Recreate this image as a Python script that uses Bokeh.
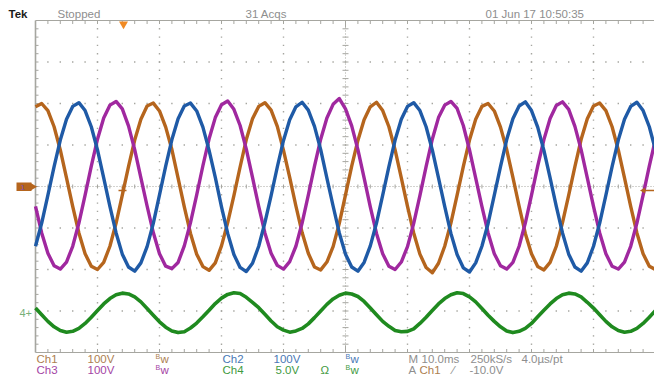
from bokeh.plotting import figure
from bokeh.models import Range1d
from bokeh.embed import file_html
from bokeh.resources import INLINE
from bokeh.core.properties import value

# ---------------- data (read from the screen capture) ----------------
# time axis: 10 ms / div, samples every 1 ms
time_ms = list(range(0, 101))

# channel values in screen divisions (Ch1-3: 100 V/div, Ch4: 5 V/div, offset -3 div)
ch1_div = [1.92, 2.00, 1.83, 1.44, 0.88, 0.21, -0.48, -1.12, -1.62, -1.92, -2.00, -1.83, -1.44, -0.88, -0.21, 0.48, 1.12, 1.62,
           1.94, 2.01, 1.82, 1.43, 0.89, 0.20, -0.49, -1.13, -1.63, -1.93, -2.02, -1.84, -1.43, -0.87, -0.22, 0.47, 1.13, 1.63,
           1.93, 2.02, 1.84, 1.45, 0.87, 0.22, -0.47, -1.11, -1.61, -1.94, -2.01, -1.82, -1.45, -0.89, -0.20, 0.49, 1.11, 1.61,
           1.92, 2.03, 1.83, 1.44, 0.88, 0.21, -0.48, -1.12, -1.63, -1.95, -2.08, -1.85, -1.44, -0.88, -0.21, 0.48, 1.12, 1.62,
           1.93, 2.00, 1.82, 1.43, 0.89, 0.22, -0.47, -1.13, -1.62, -1.93, -2.01, -1.83, -1.44, -0.87, -0.21, 0.48, 1.13, 1.63,
           1.94, 2.01, 1.83, 1.44, 0.88, 0.21, -0.48, -1.12, -1.62, -1.92, -2.00]
ch2_div = [-1.44, -0.88, -0.21, 0.48, 1.12, 1.62, 1.93, 2.02, 1.83, 1.44, 0.88, 0.21, -0.48, -1.12, -1.63, -1.94, -2.04, -1.84,
           -1.45, -0.89, -0.20, 0.49, 1.13, 1.63, 1.94, 2.01, 1.82, 1.43, 0.87, 0.22, -0.49, -1.13, -1.64, -1.95, -2.05, -1.85,
           -1.44, -0.87, -0.22, 0.47, 1.11, 1.61, 1.92, 2.03, 1.84, 1.45, 0.89, 0.20, -0.47, -1.12, -1.63, -1.94, -2.04, -1.83,
           -1.43, -0.88, -0.21, 0.48, 1.12, 1.62, 1.93, 2.02, 1.83, 1.44, 0.88, 0.21, -0.48, -1.13, -1.64, -1.96, -2.06, -1.84,
           -1.44, -0.89, -0.21, 0.48, 1.13, 1.63, 1.94, 2.04, 1.83, 1.43, 0.87, 0.21, -0.48, -1.12, -1.63, -1.94, -2.04, -1.84,
           -1.44, -0.88, -0.21, 0.48, 1.12, 1.62, 1.93, 2.03, 1.83, 1.44, 0.88]
ch3_div = [-0.48, -1.12, -1.61, -1.91, -1.99, -1.82, -1.44, -0.88, -0.21, 0.49, 1.14, 1.65, 1.96, 2.05, 1.87, 1.46, 0.89, 0.21,
           -0.47, -1.11, -1.62, -1.92, -1.98, -1.83, -1.43, -0.87, -0.20, 0.50, 1.15, 1.66, 1.97, 2.06, 1.86, 1.47, 0.90, 0.22,
           -0.48, -1.12, -1.61, -1.90, -1.99, -1.81, -1.44, -0.88, -0.21, 0.49, 1.14, 1.65, 1.98, 2.12, 1.87, 1.46, 0.89, 0.21,
           -0.49, -1.13, -1.62, -1.92, -2.00, -1.82, -1.45, -0.89, -0.22, 0.48, 1.14, 1.66, 1.96, 2.05, 1.88, 1.47, 0.88, 0.20,
           -0.48, -1.12, -1.62, -1.91, -1.99, -1.83, -1.44, -0.88, -0.21, 0.49, 1.13, 1.64, 1.95, 2.04, 1.86, 1.45, 0.89, 0.21,
           -0.48, -1.12, -1.62, -1.92, -1.99, -1.82, -1.44, -0.88, -0.21, 0.49, 1.14]
ch4_div = [-2.93, -3.09, -3.25, -3.38, -3.47, -3.51, -3.49, -3.42, -3.30, -3.15, -2.99, -2.83, -2.70, -2.61, -2.57, -2.59, -2.66, -2.78,
           -2.94, -3.10, -3.26, -3.39, -3.48, -3.52, -3.50, -3.41, -3.29, -3.14, -2.98, -2.82, -2.69, -2.60, -2.56, -2.58, -2.67, -2.79,
           -2.92, -3.08, -3.24, -3.38, -3.46, -3.51, -3.48, -3.42, -3.31, -3.16, -3.00, -2.84, -2.71, -2.62, -2.57, -2.59, -2.65, -2.77,
           -2.93, -3.09, -3.25, -3.37, -3.47, -3.50, -3.49, -3.43, -3.30, -3.15, -2.99, -2.83, -2.70, -2.61, -2.56, -2.58, -2.66, -2.78,
           -2.94, -3.10, -3.25, -3.38, -3.48, -3.52, -3.49, -3.42, -3.30, -3.14, -2.98, -2.83, -2.70, -2.61, -2.57, -2.59, -2.66, -2.79,
           -2.93, -3.09, -3.25, -3.38, -3.47, -3.51, -3.49, -3.42, -3.30, -3.15, -2.99]

header_texts = ["Tek", "Stopped", "31 Acqs", "01 Jun 17 10:50:35"]
footer_row1 = ["Ch1", "100V", "Ch2", "100V", "M", "10.0ms", "250kS/s", "4.0µs/pt"]
footer_row2 = ["Ch3", "100V", "Ch4", "5.0V", "Ω", "A", "Ch1", "⁄", "-10.0V"]

# ---------------- layout / style ----------------
GX0, GY0 = 35.0, 186.0      # reference pixel of graticule left edge / centre line
PX_MS, PX_DIV = 6.2, 41.5   # pixels per ms, pixels per vertical division
W, H = 654, 377


def X(px):
    return (px - GX0) / PX_MS


def Y(py):
    return (GY0 - py) / PX_DIV


C1, C2, C3, C4 = "#b5651d", "#1f5aa6", "#a0289f", "#1f8a1f"
T1, T2, T3, T4 = "#ad8050", "#4a78b5", "#a444a4", "#3f9a3f"
GRAY = "#8e8e8e"
GRID = "#a6a6a0"
FONT = value("Liberation Sans")

p = figure(width=W, height=H,
           x_range=Range1d(X(0), X(W)), y_range=Range1d(Y(H), Y(0)),
           output_backend="svg", toolbar_location=None,
           x_axis_location=None, y_axis_location=None, min_border=0,
           outline_line_color=None, background_fill_color="white",
           border_fill_color="white")
p.grid.visible = False

# graticule dots
dx, dy = [], []
for k in range(1, 10):
    if k == 5:
        continue
    for j in range(1, 40):
        dx.append(10.0 * k)
        dy.append(-4 + 0.2 * j)
for m in (-3, -2, -1, 1, 2, 3):
    for j in range(1, 50):
        dx.append(2.0 * j)
        dy.append(float(m))
p.scatter(dx, dy, marker="square", size=1.4, fill_color=GRID, line_color=None)

# centre lines
p.line([0, 101], [0, 0], line_color=GRID, line_width=1, line_dash="1 2")
p.line([50, 50], [-4, 4], line_color=GRID, line_width=1, line_dash="1 2")
hx = [2.0 * j for j in range(1, 50)]
p.segment(x0=hx, y0=[-2 / PX_DIV] * len(hx), x1=hx, y1=[2 / PX_DIV] * len(hx),
          line_color=GRID, line_width=1)
vy = [-4 + 0.2 * j for j in range(1, 40)]
p.segment(x0=[50 - 3 / PX_MS] * len(vy), y0=vy, x1=[50 + 3 / PX_MS] * len(vy), y1=vy,
          line_color=GRID, line_width=1)

# borders with ruler ticks
p.line([0, 0], [-4, 4], line_color=GRID, line_width=1.6)
p.line([0, 101], [4, 4], line_color=GRID, line_width=1.2)
p.line([0, 101], [-4, -4], line_color=GRID, line_width=1.2)
tl = [3.5 / PX_DIV if abs(x - 50) > 0.1 else 7 / PX_DIV for x in hx]
p.segment(x0=hx, y0=[4] * len(hx), x1=hx, y1=[4 - t for t in tl], line_color=GRID, line_width=1)
p.segment(x0=hx, y0=[-4] * len(hx), x1=hx, y1=[-4 + t for t in tl], line_color=GRID, line_width=1)
p.segment(x0=[0] * len(vy), y0=vy, x1=[3 / PX_MS] * len(vy), y1=vy, line_color=GRID, line_width=1)

# traces
p.line(time_ms, ch4_div, line_color=C4, line_width=3.6, line_join="round")
p.line(time_ms, ch1_div, line_color=C1, line_width=3.4, line_join="round")
p.line(time_ms, ch3_div, line_color=C3, line_width=3.4, line_join="round")
p.line(time_ms, ch2_div, line_color=C2, line_width=3.4, line_join="round")

# markers: trigger position, trigger point, trigger level, channel grounds
p.scatter([X(123)], [Y(23.5)], marker="inverted_triangle", size=9, fill_color="#f08a24", line_color=None)
p.scatter([X(122)], [Y(190)], marker="cross", size=8, line_color=C1, line_width=1.6)
p.segment(x0=[X(643)], y0=[Y(190)], x1=[X(660)], y1=[Y(190)], line_color=C1, line_width=1.6)
p.scatter([X(643)], [Y(190)], marker="triangle", angle=1.5708, size=6, fill_color=C1, line_color=None)
p.quad(left=[X(16)], right=[X(31)], top=[Y(182)], bottom=[Y(190.5)], fill_color=C1, line_color=None)
p.scatter([X(32)], [Y(186.25)], marker="triangle", angle=-1.5708, size=8, fill_color=C1, line_color=None)
p.text([X(20)], [Y(186.5)], text=["1"], text_font=FONT, text_font_size="8px",
       text_color="#7a4fb0", text_baseline="middle", text_align="left")
p.text([X(19)], [Y(312)], text=["4+"], text_font=FONT, text_font_size="11px",
       text_color="#78b078", text_baseline="middle", text_align="left")

# header
p.text([X(8)], [Y(13)], text=[header_texts[0]], text_font=FONT, text_font_size="11.5px",
       text_font_style="bold", text_color="#1a1a1a", text_baseline="middle", text_align="left")
p.text([X(57), X(245), X(485)], [Y(13)] * 3, text=header_texts[1:], text_font=FONT,
       text_font_size="11.5px", text_color=GRAY, text_baseline="middle", text_align="left")

# footer
r1x = [36, 87, 222, 273, 408, 421, 470, 521]
r1c = [T1, T1, T2, T2, GRAY, GRAY, GRAY, GRAY]
p.text([X(v) for v in r1x], [Y(358)] * len(r1x), text=footer_row1, text_font=FONT,
       text_font_size="11.5px", text_color=r1c, text_baseline="middle", text_align="left")
r2x = [36, 87, 222, 275, 320, 408, 419, 452, 469]
r2c = [T3, T3, T4, T4, T4, GRAY, T1, GRAY, GRAY]
p.text([X(v) for v in r2x], [Y(369.5)] * len(r2x), text=footer_row2, text_font=FONT,
       text_font_size="11.5px", text_color=r2c, text_baseline="middle", text_align="left")
# bandwidth-limit marks "Bw" (small raised B)
bwx = [155, 345, 155, 345]
bwy = [358, 358, 369.5, 369.5]
bwc = [T1, T2, T3, T4]
p.text([X(v) for v in bwx], [Y(v - 2.5) for v in bwy], text=["B"] * 4, text_font=FONT,
       text_font_size="7px", text_color=bwc, text_baseline="middle", text_align="left")
p.text([X(v + 5) for v in bwx], [Y(v) for v in bwy], text=["w"] * 4, text_font=FONT,
       text_font_size="11.5px", text_color=bwc, text_baseline="middle", text_align="left")

open("out.html", "w").write(file_html(p, INLINE))
